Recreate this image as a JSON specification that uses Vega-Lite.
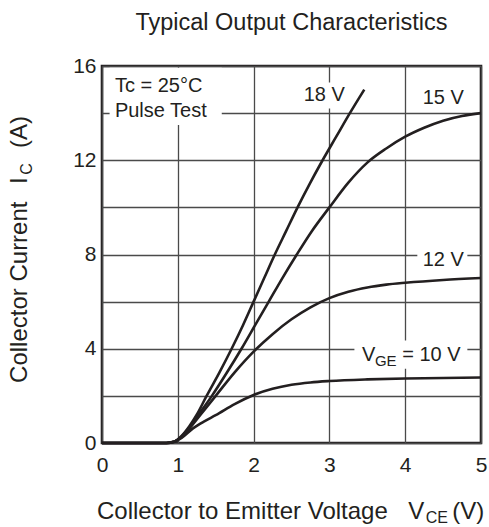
{
  "$schema": "https://vega.github.io/schema/vega-lite/v6.json",
  "width": 379,
  "height": 377,
  "autosize": {"type": "none"},
  "padding": {"left": 102, "top": 66, "right": 8, "bottom": 84},
  "title": {
    "text": "Typical Output Characteristics",
    "fontSize": 23.5,
    "fontWeight": "normal",
    "font": "Liberation Sans",
    "color": "#231f20",
    "anchor": "middle",
    "offset": 21
  },
  "config": {
    "font": "Liberation Sans",
    "view": {"stroke": "#231f20", "strokeWidth": 2.6},
    "axis": {
      "grid": true,
      "gridColor": "#4a4a4a",
      "gridWidth": 1.3,
      "ticks": false,
      "domain": false,
      "labelFont": "Liberation Sans",
      "labelFontSize": 21,
      "labelColor": "#231f20",
      "labelOverlap": false,
      "labelFlush": false,
      "title": null
    }
  },
  "datasets": {
    "curves": [
      {"vge": "18 V", "vce": 0, "ic": 0}, {"vge": "18 V", "vce": 0.85, "ic": 0},
      {"vge": "18 V", "vce": 0.95, "ic": 0.05}, {"vge": "18 V", "vce": 1.05, "ic": 0.3},
      {"vge": "18 V", "vce": 1.15, "ic": 0.7}, {"vge": "18 V", "vce": 1.25, "ic": 1.2},
      {"vge": "18 V", "vce": 1.38, "ic": 2.0}, {"vge": "18 V", "vce": 1.55, "ic": 3.0},
      {"vge": "18 V", "vce": 1.71, "ic": 4.0}, {"vge": "18 V", "vce": 1.86, "ic": 5.0},
      {"vge": "18 V", "vce": 2.0, "ic": 6.0}, {"vge": "18 V", "vce": 2.14, "ic": 7.0},
      {"vge": "18 V", "vce": 2.28, "ic": 8.0}, {"vge": "18 V", "vce": 2.43, "ic": 9.0},
      {"vge": "18 V", "vce": 2.58, "ic": 10.0}, {"vge": "18 V", "vce": 2.74, "ic": 11.0},
      {"vge": "18 V", "vce": 2.91, "ic": 12.0}, {"vge": "18 V", "vce": 3.09, "ic": 13.0},
      {"vge": "18 V", "vce": 3.27, "ic": 14.0}, {"vge": "18 V", "vce": 3.46, "ic": 15.0},

      {"vge": "15 V", "vce": 0, "ic": 0}, {"vge": "15 V", "vce": 0.85, "ic": 0},
      {"vge": "15 V", "vce": 0.95, "ic": 0.05}, {"vge": "15 V", "vce": 1.05, "ic": 0.28},
      {"vge": "15 V", "vce": 1.15, "ic": 0.65}, {"vge": "15 V", "vce": 1.25, "ic": 1.1},
      {"vge": "15 V", "vce": 1.45, "ic": 2.0}, {"vge": "15 V", "vce": 1.65, "ic": 3.0},
      {"vge": "15 V", "vce": 1.84, "ic": 4.0}, {"vge": "15 V", "vce": 2.02, "ic": 5.0},
      {"vge": "15 V", "vce": 2.2, "ic": 6.0}, {"vge": "15 V", "vce": 2.38, "ic": 7.0},
      {"vge": "15 V", "vce": 2.57, "ic": 8.0}, {"vge": "15 V", "vce": 2.77, "ic": 9.0},
      {"vge": "15 V", "vce": 3.0, "ic": 10.0}, {"vge": "15 V", "vce": 3.25, "ic": 11.05},
      {"vge": "15 V", "vce": 3.5, "ic": 11.9}, {"vge": "15 V", "vce": 3.75, "ic": 12.5},
      {"vge": "15 V", "vce": 4.0, "ic": 13.0}, {"vge": "15 V", "vce": 4.25, "ic": 13.38},
      {"vge": "15 V", "vce": 4.5, "ic": 13.68}, {"vge": "15 V", "vce": 4.75, "ic": 13.88},
      {"vge": "15 V", "vce": 5.0, "ic": 14.0},

      {"vge": "12 V", "vce": 0, "ic": 0}, {"vge": "12 V", "vce": 0.85, "ic": 0},
      {"vge": "12 V", "vce": 0.95, "ic": 0.05}, {"vge": "12 V", "vce": 1.05, "ic": 0.25},
      {"vge": "12 V", "vce": 1.15, "ic": 0.6}, {"vge": "12 V", "vce": 1.3, "ic": 1.2},
      {"vge": "12 V", "vce": 1.5, "ic": 2.0}, {"vge": "12 V", "vce": 1.75, "ic": 3.0},
      {"vge": "12 V", "vce": 2.0, "ic": 3.88}, {"vge": "12 V", "vce": 2.25, "ic": 4.62},
      {"vge": "12 V", "vce": 2.5, "ic": 5.25}, {"vge": "12 V", "vce": 2.75, "ic": 5.76},
      {"vge": "12 V", "vce": 3.0, "ic": 6.15}, {"vge": "12 V", "vce": 3.25, "ic": 6.42},
      {"vge": "12 V", "vce": 3.5, "ic": 6.6}, {"vge": "12 V", "vce": 3.75, "ic": 6.72},
      {"vge": "12 V", "vce": 4.0, "ic": 6.8}, {"vge": "12 V", "vce": 4.5, "ic": 6.92},
      {"vge": "12 V", "vce": 5.0, "ic": 7.0},

      {"vge": "10 V", "vce": 0, "ic": 0}, {"vge": "10 V", "vce": 0.85, "ic": 0},
      {"vge": "10 V", "vce": 0.95, "ic": 0.05}, {"vge": "10 V", "vce": 1.05, "ic": 0.22},
      {"vge": "10 V", "vce": 1.2, "ic": 0.62}, {"vge": "10 V", "vce": 1.35, "ic": 0.92},
      {"vge": "10 V", "vce": 1.5, "ic": 1.18}, {"vge": "10 V", "vce": 1.75, "ic": 1.65},
      {"vge": "10 V", "vce": 2.0, "ic": 2.04}, {"vge": "10 V", "vce": 2.25, "ic": 2.3},
      {"vge": "10 V", "vce": 2.5, "ic": 2.47}, {"vge": "10 V", "vce": 2.75, "ic": 2.57},
      {"vge": "10 V", "vce": 3.0, "ic": 2.63}, {"vge": "10 V", "vce": 3.5, "ic": 2.7},
      {"vge": "10 V", "vce": 4.0, "ic": 2.74}, {"vge": "10 V", "vce": 4.5, "ic": 2.76},
      {"vge": "10 V", "vce": 5.0, "ic": 2.78}
    ],
    "boxes": [
      {"x0": 0.1, "x1": 1.58, "y0": 13.5, "y1": 15.93},
      {"x0": 2.6, "x1": 3.26, "y0": 14.2, "y1": 15.3},
      {"x0": 4.17, "x1": 4.83, "y0": 14.2, "y1": 15.3},
      {"x0": 4.16, "x1": 4.82, "y0": 7.35, "y1": 8.25},
      {"x0": 3.33, "x1": 4.82, "y0": 3.15, "y1": 4.35}
    ],
    "notes": [
      {"x": 0.17, "y": 15.13, "text": "Tc = 25°C"},
      {"x": 0.17, "y": 14.09, "text": "Pulse Test"},
      {"x": 2.66, "y": 14.77, "text": "18 V"},
      {"x": 4.23, "y": 14.66, "text": "15 V"},
      {"x": 4.23, "y": 7.77, "text": "12 V"},
      {"x": 3.43, "y": 3.73, "text": "V"},
      {"x": 3.96, "y": 3.73, "text": "= 10 V"}
    ],
    "noteSubs": [
      {"x": 3.6, "y": 3.46, "text": "GE"}
    ],
    "xTitle": [
      {"x": -0.066, "y": -3.23, "text": "Collector to Emitter Voltage"},
      {"x": 4.04, "y": -3.23, "text": "V"},
      {"x": 4.62, "y": -3.23, "text": "(V)"}
    ],
    "xTitleSub": [
      {"x": 4.27, "y": -3.4, "text": "CE"}
    ],
    "yTitle": [
      {"x": -0.99, "y": 2.55, "text": "Collector Current"},
      {"x": -0.99, "y": 10.99, "text": "I"},
      {"x": -0.99, "y": 12.52, "text": "(A)"}
    ],
    "yTitleSub": [
      {"x": -0.92, "y": 11.38, "text": "C"}
    ]
  },
  "layer": [
    {
      "data": {"name": "boxes"},
      "mark": {"type": "rect", "fill": "white", "stroke": null},
      "encoding": {
        "x": {
          "field": "x0", "type": "quantitative",
          "scale": {"domain": [0, 5], "nice": false, "zero": false},
          "axis": {
            "values": [0, 0.5, 1, 1.5, 2, 2.5, 3, 3.5, 4, 4.5, 5],
            "labelExpr": "datum.value % 1 === 0 ? format(datum.value, 'd') : ''",
            "labelPadding": 11
          }
        },
        "x2": {"field": "x1"},
        "y": {
          "field": "y0", "type": "quantitative",
          "scale": {"domain": [0, 16], "nice": false, "zero": false},
          "axis": {
            "values": [0, 2, 4, 6, 8, 10, 12, 14, 16],
            "labelExpr": "datum.value % 4 === 0 ? format(datum.value, 'd') : ''",
            "labelPadding": 6
          }
        },
        "y2": {"field": "y1"}
      }
    },
    {
      "data": {"name": "curves"},
      "mark": {"type": "line", "color": "#231f20", "strokeWidth": 2.6, "interpolate": "monotone"},
      "encoding": {
        "x": {"field": "vce", "type": "quantitative"},
        "y": {"field": "ic", "type": "quantitative"},
        "detail": {"field": "vge", "type": "nominal"}
      }
    },
    {
      "data": {"name": "notes"},
      "mark": {"type": "text", "align": "left", "baseline": "middle", "fontSize": 20, "color": "#231f20"},
      "encoding": {
        "x": {"field": "x", "type": "quantitative"},
        "y": {"field": "y", "type": "quantitative"},
        "text": {"field": "text"}
      }
    },
    {
      "data": {"name": "noteSubs"},
      "mark": {"type": "text", "align": "left", "baseline": "middle", "fontSize": 15, "color": "#231f20"},
      "encoding": {
        "x": {"field": "x", "type": "quantitative"},
        "y": {"field": "y", "type": "quantitative"},
        "text": {"field": "text"}
      }
    },
    {
      "data": {"name": "xTitle"},
      "mark": {"type": "text", "align": "left", "baseline": "alphabetic", "fontSize": 24, "color": "#231f20"},
      "encoding": {
        "x": {"field": "x", "type": "quantitative"},
        "y": {"field": "y", "type": "quantitative"},
        "text": {"field": "text"}
      }
    },
    {
      "data": {"name": "xTitleSub"},
      "mark": {"type": "text", "align": "left", "baseline": "alphabetic", "fontSize": 16, "color": "#231f20"},
      "encoding": {
        "x": {"field": "x", "type": "quantitative"},
        "y": {"field": "y", "type": "quantitative"},
        "text": {"field": "text"}
      }
    },
    {
      "data": {"name": "yTitle"},
      "mark": {"type": "text", "align": "left", "baseline": "alphabetic", "angle": 270, "fontSize": 24, "color": "#231f20"},
      "encoding": {
        "x": {"field": "x", "type": "quantitative"},
        "y": {"field": "y", "type": "quantitative"},
        "text": {"field": "text"}
      }
    },
    {
      "data": {"name": "yTitleSub"},
      "mark": {"type": "text", "align": "left", "baseline": "alphabetic", "angle": 270, "fontSize": 16, "color": "#231f20"},
      "encoding": {
        "x": {"field": "x", "type": "quantitative"},
        "y": {"field": "y", "type": "quantitative"},
        "text": {"field": "text"}
      }
    }
  ]
}
